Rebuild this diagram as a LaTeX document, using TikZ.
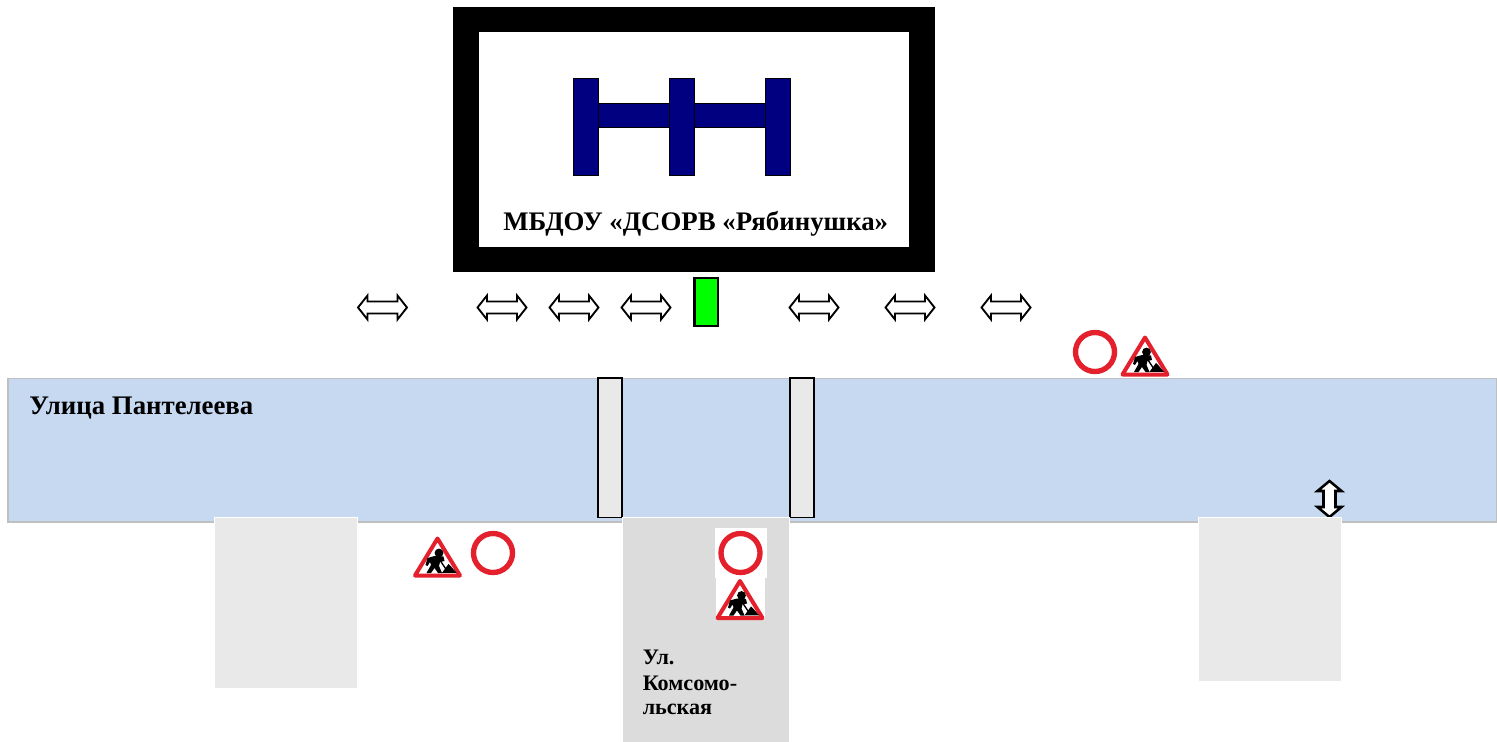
\documentclass[tikz,border=0pt]{standalone}
\usepackage{fontspec}
\setmainfont{Liberation Serif}
\definecolor{road}{HTML}{C6D9F1}
\definecolor{roadedge}{HTML}{BFBFBF}
\definecolor{lot}{HTML}{E9E9E9}
\definecolor{side}{HTML}{DCDCDC}
\definecolor{navy}{HTML}{000080}
\definecolor{signred}{HTML}{E3202B}
\tikzset{
  wing/.style={fill=navy,draw=black,line width=0.6pt},
  crossing/.style={fill=lot,draw=black,line width=1.3pt},
  lotbox/.style={fill=lot,draw=white,line width=1.4pt},
  arrowshape/.style={fill=white,draw=black,line width=1.4pt,line join=miter},
  lbl/.style={font=\bfseries,text=black,inner sep=0pt,anchor=west},
  bigl/.style={lbl,font=\bfseries\fontsize{20.1}{22}\selectfont},
  sidel/.style={lbl,font=\bfseries\fontsize{16.6}{18}\selectfont},
  pics/harrow/.style={code={
    \draw[arrowshape] (-24.5,0)--(-15,-12)--(-15,-6)--(15,-6)--(15,-12)--(24.5,0)--(15,12)--(15,6)--(-15,6)--(-15,12)--cycle;
  }},
  pics/varrow/.style={code={
    \draw[arrowshape,line width=1.9pt] (0,-18)--(-12,-8)--(-6,-8)--(-6,8)--(-12,8)--(0,18)--(12,8)--(6,8)--(6,-8)--(12,-8)--cycle;
  }},
  pics/nosign/.style={code={
    \draw[signred,line width=4pt,fill=white] (0,0) circle (19.5);
  }},
  pics/worksign/.style={code={
    \draw[signred,line width=3pt,fill=white,line join=round] (0,-18.5)--(-22.5,18.5)--(22.5,18.5)--cycle;
    % worker
    \fill[black] (1.5,-4) circle (4.4);
    \fill[black] (-10,1) -- (-3,-1) -- (6,-0.5) -- (7,4) -- (2.5,5) -- (1.5,9) -- (4.5,16) -- (0.5,16) -- (-3,11) -- (-6.5,16) -- (-11,16) -- (-6.5,8) -- (-7.5,5) -- (-10,9) -- (-12,8) -- cycle;
    \draw[black,line width=1pt] (3,4) -- (9,13);
    \fill[black] (4.5,15.8) -- (11,7) -- (14,10) -- (19,15.8) -- cycle;
  }},
}
\begin{document}
\begin{tikzpicture}[x=0.75pt,y=-0.75pt]
\useasboundingbox (0,0) rectangle (1497,742);
\fill[white] (0,0) rectangle (1497,742);
% building
\fill[black] (453,7) rectangle (935,272);
\fill[white] (478.5,32) rectangle (909,247);
\draw[wing] (598,103) rectangle (669,127.5);
\draw[wing] (694,103) rectangle (765,127.5);
\draw[wing] (573.5,78.5) rectangle (598,175.5);
\draw[wing] (669.5,78.5) rectangle (694,175.5);
\draw[wing] (765.5,78.5) rectangle (790.5,175.5);
\node[bigl] (school) at (503,224) {МБДОУ «ДСОРВ «Рябинушка»};
% entrance
\draw[fill=green,draw=black,line width=1.6pt] (694.5,278) rectangle (718,326);
% arrows
\foreach \x in {382.5,502,574,646,814,910,1006} \pic at (\x,307.5) {harrow};
% road
\draw[fill=road,draw=roadedge,line width=1.4pt] (8,378.5) rectangle (1497,522);
\node[bigl] (street) at (29,408.5) {Улица Пантелеева};
% crossings
\draw[crossing] (598,378) rectangle (622,517.5);
\draw[crossing] (790,378) rectangle (814,517.5);
% side street and lots
\draw[lotbox] (214.5,517.5) rectangle (357.5,688.5);
\pic at (1329.5,499) {varrow};
\draw[lotbox] (1198.5,517.5) rectangle (1341.5,681.5);
\fill[white] (622,516.5) rectangle (790,742);
\fill[side] (623,518) rectangle (789,742);
% signs
\fill[white] (715,528) rectangle (767,578);
\fill[white] (715.5,578) rectangle (765,619);
\pic at (740.5,553) {nosign};
\pic at (740,599.5) {worksign};
\pic at (1095,352) {nosign};
\pic at (1145,356) {worksign};
\pic at (493,553) {nosign};
\pic at (437.5,557) {worksign};
% side street label
\node[sidel] (ul1) at (642.5,657.5) {Ул.};
\node[sidel] (ul2) at (642.5,683) {Комсомо-};
\node[sidel] (ul3) at (642.5,709.5) {льская};
\end{tikzpicture}
\end{document}
